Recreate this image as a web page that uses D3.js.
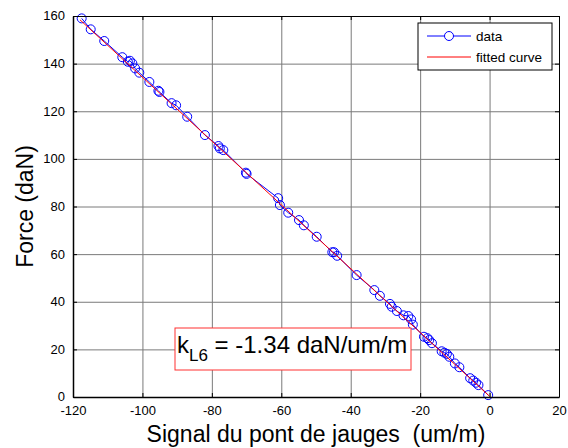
<!DOCTYPE html>
<html>
<head>
<meta charset="utf-8">
<script src="https://cdn.jsdelivr.net/npm/d3@7"></script>
<style>
  body { margin: 0; background: #fff; }
  #chart1 { width: 568px; height: 448px; }
  text { font-family: Arial, "Liberation Sans", sans-serif; }
</style>
</head>
<body>
<div id="chart1"></div>
<script>
// Signal du pont de jauges vs Force, with linear fit

const signalValues = [-117.5, -114.9, -111.0, -105.8, -104.2, -103.6, -102.9, -102.1, -100.9, -98.0,
    -95.4, -95.1, -91.6, -90.3, -87.1, -82.0, -78.1, -77.7, -76.7, -70.2,
    -70.0, -60.9, -60.4, -58.0, -54.9, -53.5, -49.8, -45.3, -44.8, -43.9,
    -38.3, -33.2, -31.6, -28.7, -28.2, -26.7, -24.8, -23.4, -22.6, -22.1,
    -18.9, -17.9, -17.4, -16.6, -13.8, -13.0, -12.3, -11.6, -10.0, -8.7,
    -5.6, -4.7, -3.9, -3.2, -0.4];
const forceValues = [159.0, 154.4, 149.5, 142.7, 140.8, 141.2, 140.1, 138.0, 136.2, 132.3,
    128.6, 128.1, 123.4, 122.5, 117.7, 110.0, 105.4, 104.4, 103.7, 94.2,
    93.7, 83.5, 80.6, 77.4, 74.3, 72.1, 67.3, 60.8, 60.8, 59.3,
    51.2, 44.9, 42.5, 39.1, 37.9, 36.1, 34.3, 34.0, 32.6, 30.4,
    25.3, 24.7, 23.9, 22.6, 19.2, 18.6, 18.1, 16.9, 14.1, 12.5,
    7.9, 6.9, 6.0, 5.0, 0.8];

// fitted curve end points
const fitSignal = [-118, 0];
const fitForce = [158.4, 0.3];

const xTicks = [-120, -100, -80, -60, -40, -20, 0, 20];
const yTicks = [0, 20, 40, 60, 80, 100, 120, 140, 160];
const legendLabels = ["data", "fitted curve"];

function renderChart() {
    d3.select("#chart1").selectAll("*").remove();

    const width = 568;
    const height = 448;
    const margin = { top: 16, right: 9, bottom: 51, left: 73 };
    const innerWidth = width - margin.left - margin.right;
    const innerHeight = height - margin.top - margin.bottom;

    const svg = d3.select("#chart1")
        .append("svg")
        .attr("width", width)
        .attr("height", height);

    const g = svg.append("g")
        .attr("transform", `translate(${margin.left},${margin.top})`);

    // Scales
    const x = d3.scaleLinear().domain([-120, 20]).range([0, innerWidth]);
    const y = d3.scaleLinear().domain([0, 160]).range([innerHeight, 0]);
    const plain = d => String(d);   // keep hyphen minus like the original

    // Grid
    g.append("g")
        .attr("class", "grid")
        .attr("transform", `translate(0,${innerHeight})`)
        .call(d3.axisBottom(x).tickValues(xTicks).tickSize(-innerHeight).tickFormat(""));
    g.append("g")
        .attr("class", "grid")
        .call(d3.axisLeft(y).tickValues(yTicks).tickSize(-innerWidth).tickFormat(""));
    g.selectAll(".grid .domain").remove();
    g.selectAll(".grid line").attr("stroke", "#7a7a7a").attr("stroke-width", 1);

    // Data line
    const pts = signalValues.map((s, i) => ({ s: s, f: forceValues[i] }));
    const line = d3.line().x(d => x(d.s)).y(d => y(d.f));

    g.append("path")
        .datum(pts)
        .attr("fill", "none")
        .attr("stroke", "#0000ff")
        .attr("stroke-width", 1)
        .attr("d", line);

    g.selectAll("circle.pt")
        .data(pts)
        .enter()
        .append("circle")
        .attr("class", "pt")
        .attr("cx", d => x(d.s))
        .attr("cy", d => y(d.f))
        .attr("r", 4.5)
        .attr("fill", "none")
        .attr("stroke", "#0000ff")
        .attr("stroke-width", 1);

    // Fitted line
    const fit = fitSignal.map((s, i) => ({ s: s, f: fitForce[i] }));
    g.append("path")
        .datum(fit)
        .attr("fill", "none")
        .attr("stroke", "#ff0000")
        .attr("stroke-width", 1)
        .attr("d", line);

    // Axes (ticks inside on all four sides)
    const xAxis = g.append("g")
        .attr("transform", `translate(0,${innerHeight})`)
        .call(d3.axisBottom(x).tickValues(xTicks).tickFormat(plain).tickSizeInner(-4).tickSizeOuter(0).tickPadding(9));
    const yAxis = g.append("g")
        .call(d3.axisLeft(y).tickValues(yTicks).tickFormat(plain).tickSizeInner(-4).tickSizeOuter(0).tickPadding(8));
    g.append("g")
        .call(d3.axisTop(x).tickValues(xTicks).tickSizeInner(-4).tickSizeOuter(0).tickFormat(""));
    g.append("g")
        .attr("transform", `translate(${innerWidth},0)`)
        .call(d3.axisRight(y).tickValues(yTicks).tickSizeInner(-4).tickSizeOuter(0).tickFormat(""));

    g.selectAll(".tick text")
        .attr("fill", "#000")
        .attr("font-size", "13px")
        .attr("font-family", "Arial, 'Liberation Sans', sans-serif");
    yAxis.selectAll(".tick text").attr("dy", "0.3em");
    g.selectAll(".domain").attr("stroke", "#000");
    xAxis.select(".domain").attr("stroke-width", 1.5);
    yAxis.select(".domain").attr("stroke-width", 1.5);

    // Axis labels
    g.append("text")
        .attr("x", innerWidth / 2)
        .attr("y", innerHeight + 45)
        .attr("text-anchor", "middle")
        .attr("fill", "#000")
        .attr("font-size", "23px")
        .style("white-space", "pre")
        .text("Signal du pont de jauges  (um/m)");

    g.append("text")
        .attr("transform", "rotate(-90)")
        .attr("x", -innerHeight / 2)
        .attr("y", -40)
        .attr("text-anchor", "middle")
        .attr("fill", "#000")
        .attr("font-size", "23px")
        .text("Force (daN)");

    // Legend
    const lg = svg.append("g").attr("transform", "translate(418,23)");
    lg.append("rect")
        .attr("width", 134)
        .attr("height", 47)
        .attr("fill", "#fff")
        .attr("stroke", "#000")
        .attr("stroke-width", 1);
    const legendColors = ["#0000ff", "#ff0000"];
    legendLabels.forEach((lab, i) => {
        const ly = 13 + i * 21;
        lg.append("line")
            .attr("x1", 9).attr("x2", 53)
            .attr("y1", ly).attr("y2", ly)
            .attr("stroke", legendColors[i]);
        if (i === 0) {
            lg.append("circle")
                .attr("cx", 31).attr("cy", ly).attr("r", 4.5)
                .attr("fill", "#fff").attr("stroke", "#0000ff");
        }
        lg.append("text")
            .attr("x", 58)
            .attr("y", ly + 5)
            .attr("font-size", "13.5px")
            .attr("fill", "#000")
            .text(lab);
    });

    // Annotation box
    const ann = svg.append("g").attr("transform", "translate(175,328)");
    ann.append("rect")
        .attr("width", 236)
        .attr("height", 42)
        .attr("fill", "#fff")
        .attr("stroke", "#ff3030")
        .attr("stroke-width", 1);
    const t = ann.append("text")
        .attr("x", 2)
        .attr("y", 25)
        .attr("fill", "#000")
        .attr("font-size", "24px");
    t.append("tspan").text("k");
    t.append("tspan").attr("dy", 8).attr("font-size", "17px").text("L6");
    t.append("tspan").attr("dy", -8).text(" = -1.34 daN/um/m");
}

renderChart();
</script>
</body>
</html>
